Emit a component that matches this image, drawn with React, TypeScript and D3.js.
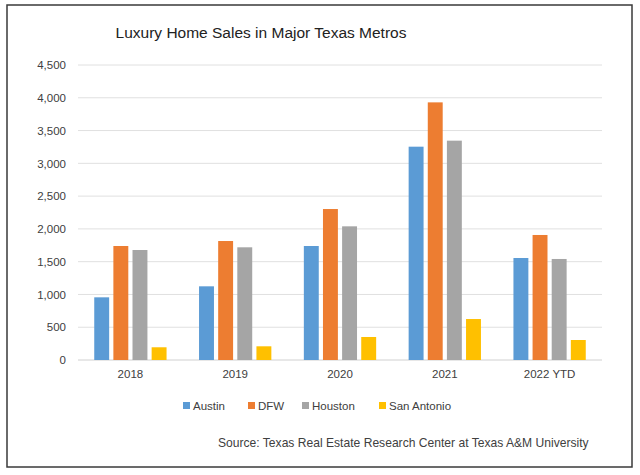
import React, { useEffect, useRef } from 'react';
import * as d3 from 'd3';

const years = ['2018', '2019', '2020', '2021', '2022 YTD'];
const metros = ['Austin', 'DFW', 'Houston', 'San Antonio'];
const colors = ['#5b9bd5', '#ed7d31', '#a5a5a5', '#ffc000'];

const austin = [956, 1124, 1739, 3254, 1556];
const dfw = [1739, 1815, 2303, 3930, 1907];
const houston = [1678, 1719, 2039, 3346, 1541];
const sanAntonio = [194, 209, 351, 625, 305];

const seriesValues = [austin, dfw, houston, sanAntonio];
const yTicks = [0, 500, 1000, 1500, 2000, 2500, 3000, 3500, 4000, 4500];

const W = 640;
const H = 475;
const FONT = "'Liberation Sans', Arial, sans-serif";

export default function App() {
  const ref = useRef<SVGSVGElement>(null);

  useEffect(() => {
    const svg = d3.select(ref.current);
    svg.selectAll('*').remove();

    const margin = { top: 65, right: 38, bottom: 115, left: 78 };
    const innerW = 602 - margin.left;
    const innerH = 360 - margin.top;

    svg.append('rect').attr('width', W).attr('height', H).attr('fill', '#fff');
    // marco
    svg.append('rect')
      .attr('x', 7).attr('y', 5).attr('width', 625).attr('height', 462)
      .attr('fill', 'none').attr('stroke', '#3a3a3a').attr('stroke-width', 1.5);

    svg.append('text')
      .attr('x', 261).attr('y', 38)
      .attr('text-anchor', 'middle')
      .attr('font-family', FONT)
      .attr('font-size', 15.5)
      .attr('fill', '#222')
      .text('Luxury Home Sales in Major Texas Metros');

    const x0 = d3.scaleBand().domain(years).range([0, innerW]).paddingInner(0.31).paddingOuter(0.155);
    const x1 = d3.scaleBand().domain(metros).range([0, x0.bandwidth()]).paddingInner(0.22);
    const y = d3.scaleLinear().domain([0, 4500]).range([innerH, 0]);

    const g = svg.append('g').attr('transform', `translate(${margin.left},${margin.top})`);

    // rejilla
    g.append('g')
      .selectAll('line')
      .data(yTicks)
      .join('line')
      .attr('x1', 0).attr('x2', innerW)
      .attr('y1', d => y(d)).attr('y2', d => y(d))
      .attr('stroke', d => (d === 0 ? '#d0d0d0' : '#e0e0e0'))
      .attr('stroke-width', 1);

    const yAxis = g.append('g')
      .call(d3.axisLeft(y).tickValues(yTicks).tickSize(0).tickPadding(12).tickFormat(d3.format(',')));
    yAxis.select('.domain').remove();
    yAxis.selectAll('text').attr('font-family', FONT).attr('font-size', 11.5).attr('fill', '#404040');

    const xAxis = g.append('g')
      .attr('transform', `translate(0,${innerH})`)
      .call(d3.axisBottom(x0).tickSize(0).tickPadding(10));
    xAxis.select('.domain').remove();
    xAxis.selectAll('text').attr('font-family', FONT).attr('font-size', 11.5).attr('fill', '#404040');

    // barras
    const groups = g.selectAll('g.year')
      .data(years)
      .join('g')
      .attr('class', 'year')
      .attr('transform', d => `translate(${x0(d)},0)`);

    groups.selectAll('rect')
      .data((_, i) => metros.map((m, j) => ({ m, j, v: seriesValues[j][i] })))
      .join('rect')
      .attr('x', d => x1(d.m) ?? 0)
      .attr('width', x1.bandwidth())
      .attr('y', d => y(d.v))
      .attr('height', d => innerH - y(d.v))
      .attr('fill', d => colors[d.j]);

    // leyenda
    const legendX = [183, 248, 302, 379];
    const legend = svg.append('g').attr('transform', 'translate(0,406)');
    metros.forEach((m, i) => {
      legend.append('rect')
        .attr('x', legendX[i]).attr('y', -4).attr('width', 7).attr('height', 7)
        .attr('fill', colors[i]);
      legend.append('text')
        .attr('x', legendX[i] + 10).attr('y', 4)
        .attr('font-family', FONT).attr('font-size', 11.5).attr('fill', '#404040')
        .text(m);
    });

    svg.append('text')
      .attr('x', 218).attr('y', 447)
      .attr('font-family', FONT)
      .attr('font-size', 12.1)
      .attr('fill', '#404040')
      .text('Source: Texas Real Estate Research Center at Texas A&M University');
  }, []);

  return (
    <svg ref={ref} width={W} height={H} style={{ position: 'absolute', left: 0, top: 0 }} />
  );
}
